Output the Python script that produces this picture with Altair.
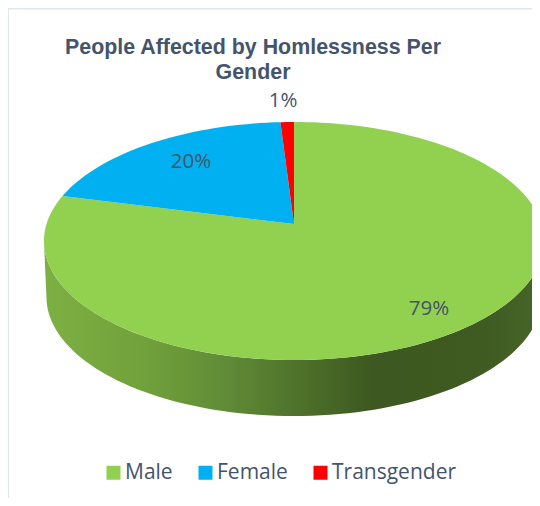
import math
import altair as alt

GENDERS = ["Male", "Female", "Transgender"]
SHARES = [79, 20, 1]
LABELS = ["79%", "20%", "1%"]
COLORS = ["#92d050", "#00b0f0", "#ff0000"]
TITLE = ["People Affected by Homlessness Per", "Gender"]
SIDE_STOPS = [(0.0, "#7db043"), (0.2, "#71a13b"), (0.36, "#618c37"), (0.5, "#4f732b"),
              (0.66, "#3d5820"), (0.88, "#3f5b21"), (1.0, "#47652a")]

W, H_TOTAL, PAD = 524, 490, 82
H = H_TOTAL - PAD
CX, CY = 294, 224            # pie centre in page pixels
A, B, K = 247.5, 116.6, 1 / 7
A_LOW, DEPTH = 245, 56


def rim(theta, a=A, drop=0):
    w = 1 + K * math.cos(theta)
    return [CX + a * math.sin(theta) / w, -(CY + drop - B * math.cos(theta) / w)]


def sweep(start_pct, end_pct, a=A, drop=0):
    n = max(2, int(abs(end_pct - start_pct) * 2))
    return [rim(2 * math.pi * (start_pct + (end_pct - start_pct) * i / n) / 100, a, drop)
            for i in range(n + 1)]


features = []
cum = 0
for g, s in zip(GENDERS, SHARES):
    ring = [[CX, -CY]] + sweep(cum, cum + s) + [[CX, -CY]]
    features.append({"type": "Feature", "properties": {"gender": g},
                     "geometry": {"type": "Polygon", "coordinates": [ring]}})
    cum += s

side_ring = sweep(27.3, 72.7) + sweep(72.7, 27.3, A_LOW, DEPTH)
side_ring.append(side_ring[0])
side = {"type": "Feature", "properties": {},
        "geometry": {"type": "Polygon", "coordinates": [side_ring]}}

proj = dict(type="identity", reflectY=True, scale=1, translate=[-8, -8 - PAD])


def geo(feats):
    return alt.InlineData(values={"type": "FeatureCollection", "features": feats},
                          format=alt.DataFormat(property="features", type="json"))


side_layer = alt.Chart(geo([side])).mark_geoshape(
    fill=alt.LinearGradient(gradient="linear", x1=0, x2=1, y1=0, y2=0,
                            stops=[alt.GradientStop(offset=o, color=c) for o, c in SIDE_STOPS]),
    strokeWidth=0,
).project(**proj)

top_layer = alt.Chart(geo(features)).mark_geoshape(strokeWidth=0).encode(
    color=alt.Color(
        "properties.gender:N",
        scale=alt.Scale(domain=GENDERS, range=COLORS),
        legend=alt.Legend(
            title=None, orient="none", legendX=95, legendY=372, direction="horizontal",
            columns=3, symbolType="square", symbolSize=196, symbolStrokeWidth=0,
            labelFont="Open Sans", labelFontSize=21, labelColor="#44546a",
            columnPadding=22, labelOffset=1, labelLimit=200, symbolOpacity=1,
        ),
    )
).project(**proj)

label_pos = [(429, 309), (191, 162), (283, 101)]
text_layers = [
    alt.Chart(alt.Data(values=[{"label": t}])).mark_text(
        font="Open Sans", fontSize=20.5, color="#44546a", align="center", baseline="middle"
    ).encode(text="label:N", x=alt.value(px - 8), y=alt.value(py - 8 - PAD))
    for t, (px, py) in zip(LABELS, label_pos)
]

frame = alt.Data(values=[{"a": 1}])
frame_left = alt.Chart(frame).mark_rule(color="#dfe6ef", strokeWidth=2).encode(
    x=alt.value(0), y=alt.value(-PAD), y2=alt.value(H))
frame_top = alt.Chart(frame).mark_rule(color="#dfe6ef", strokeWidth=2).encode(
    y=alt.value(-PAD + 0.5), x=alt.value(0), x2=alt.value(W))

chart = alt.layer(
    frame_left, frame_top, side_layer, top_layer, *text_layers
).properties(
    width=W, height=H,
    padding={"left": 0, "right": 0, "top": PAD, "bottom": 0},
    autosize=alt.AutoSizeParams(type="none", contains="content"),
    title=alt.TitleParams(
        text=TITLE, anchor="middle", dx=-17, offset=-76, font="Liberation Sans",
        fontSize=21.4, fontWeight="bold", color="#44546a", lineHeight=25,
    ),
).configure_view(stroke=None)

chart.save("out.html", embed_options={"renderer": "svg", "actions": False})
